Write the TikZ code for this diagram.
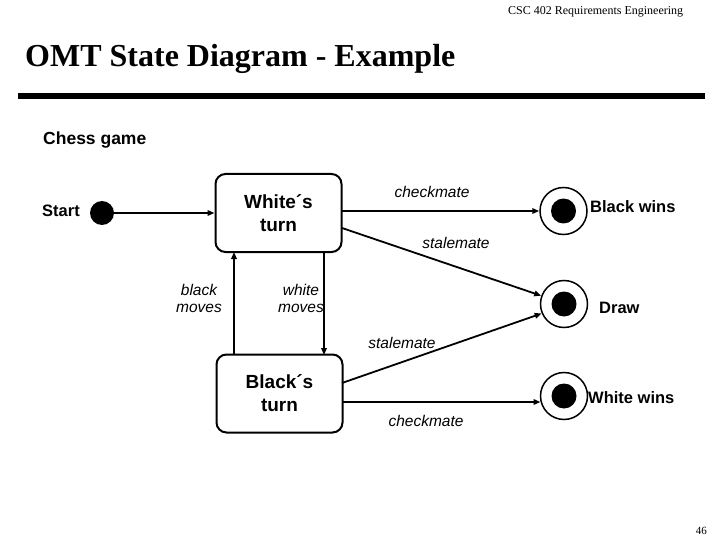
\documentclass[tikz,border=0pt]{standalone}
\usepackage{fontspec}
\setmainfont{Liberation Serif}
\setsansfont{Liberation Sans}
\usetikzlibrary{arrows.meta}
\tikzset{
  stbox/.style={draw, line width=2pt, rounded corners=10pt, minimum width=126pt, minimum height=78pt, inner sep=0pt, align=center, font=\sffamily\bfseries\fontsize{19}{23}\selectfont},
  lbl/.style={inner sep=0pt, font=\sffamily\bfseries\fontsize{16.5}{19}\selectfont},
  evt/.style={inner sep=0pt, align=center, font=\sffamily\itshape\fontsize{15.5}{17}\selectfont},
  conn/.style={line width=1.8pt, -{Triangle[length=7pt,width=5.5pt]}},
  startdot/.style={circle, fill=black, minimum size=24pt, inner sep=0pt},
  endring/.style={circle, draw, line width=1.5pt, minimum size=47pt, inner sep=0pt},
  enddot/.style={circle, fill=black, minimum size=25pt, inner sep=0pt}
}
\begin{document}
\begin{tikzpicture}[x=1pt,y=-1pt]
\useasboundingbox (0,0) rectangle (720,540);
% header
\node[anchor=base west, inner sep=0pt, font=\fontsize{12}{14}\selectfont] (hdr) at (508,15) {CSC 402 Requirements Engineering};
\node[anchor=base west, inner sep=0pt, font=\bfseries\fontsize{32}{36}\selectfont] (title) at (25,67) {OMT State Diagram - Example};
\coordinate (rl) at (18,96);
\coordinate (rr) at (705,96);
\draw[line width=6pt] (rl) -- (rr);
\node[anchor=base west, lbl, font=\sffamily\bfseries\fontsize{17.5}{20}\selectfont] (chess) at (43,145) {Chess game};
% states
\node[startdot] (start) at (102,213) {};
\node[lbl, anchor=base west] (startl) at (42,217) {Start};
\node[stbox] (white) at (278.5,213) {White´s\\turn};
\node[stbox] (black) at (279.5,393.5) {Black´s\\turn};
% final states
\node[endring] (bw) at (563.5,211) {};
\node[enddot] at (bw) {};
\node[lbl, anchor=base west] (bwl) at (590,212) {Black wins};
\node[endring] (dr) at (564,304) {};
\node[enddot] at (dr) {};
\node[lbl, anchor=base west] (drl) at (599,313) {Draw};
\node[endring] (ww) at (564,396) {};
\node[enddot] at (ww) {};
\node[lbl, anchor=base west] (wwl) at (588,403) {White wins};
% transitions
\draw[conn] (start) -- (white);
\coordinate (w1) at (342,211);
\draw[conn] (w1) -- (bw);
\coordinate (w2) at (342,228);
\draw[conn] (w2) -- (dr.160);
\coordinate (b1) at (342,383);
\draw[conn] (b1) -- (dr.203);
\coordinate (b2) at (342,402);
\coordinate (b2e) at (540.5,402);
\draw[conn] (b2) -- (b2e);
\coordinate (bmb) at (234,355);
\coordinate (bmt) at (234,252);
\draw[conn] (bmb) -- (bmt);
\coordinate (wmt) at (324,252);
\coordinate (wmb) at (324,355);
\draw[conn] (wmt) -- (wmb);
% labels
\node[evt] (l1) at (432,192) {checkmate};
\node[evt] (l2) at (456,243) {stalemate};
\node[evt] (l3) at (199,298) {black\\moves};
\node[evt] (l4) at (301,298) {white\\moves};
\node[evt] (l5) at (402,343) {stalemate};
\node[evt] (l6) at (426,421) {checkmate};
\node[anchor=base east, inner sep=0pt, font=\fontsize{11}{13}\selectfont] (pg) at (707,534) {46};
\end{tikzpicture}
\end{document}
